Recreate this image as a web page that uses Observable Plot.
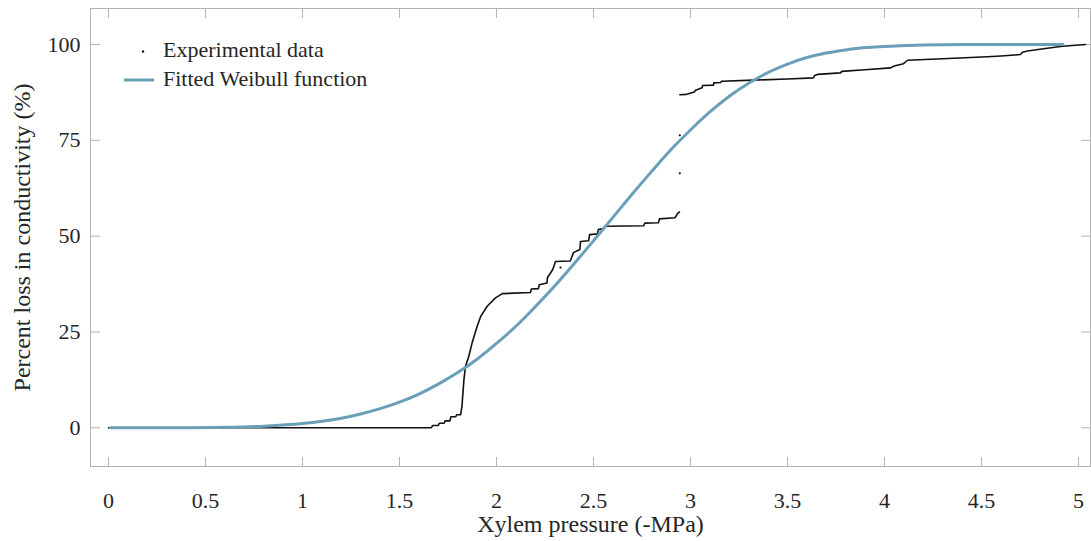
<!DOCTYPE html>
<html><head><meta charset="utf-8">
<script src="https://cdn.jsdelivr.net/npm/d3@7"></script>
<script src="https://cdn.jsdelivr.net/npm/@observablehq/plot@0.6"></script>
<style>
body{margin:0;background:#fff;}
#wrap{position:relative;width:1091px;height:541px;font-family:"Liberation Serif","Times New Roman",serif;}
#legend{position:absolute;left:0;top:0;pointer-events:none;}
</style></head><body><div id="wrap"></div>
<script>
// Fitted Weibull curve
const fitX = [0.01, 0.2, 0.4, 0.6, 0.8, 1.0, 1.1, 1.2, 1.3, 1.4, 1.5, 1.6, 1.7, 1.8, 1.9, 2.0, 2.1, 2.2, 2.3, 2.4, 2.5, 2.6, 2.7, 2.8, 2.9, 3.0, 3.1, 3.2, 3.3, 3.4, 3.5, 3.6, 3.7, 3.8, 3.9, 4.0, 4.2, 4.4, 4.6, 4.92];
const fitY = [0, 0, 0.02, 0.12, 0.42, 1.1, 1.7, 2.5, 3.6, 5.0, 6.7, 8.8, 11.4, 14.4, 17.9, 22.0, 26.5, 31.6, 37.0, 42.8, 48.8, 54.9, 61.0, 66.9, 72.6, 77.7, 82.4, 86.5, 89.9, 92.7, 94.9, 96.6, 97.8, 98.6, 99.2, 99.5, 99.9, 100, 100, 100];
// Experimental data, lower branch
const lowX = [0, 1.665, 1.67, 1.70, 1.705, 1.73, 1.735, 1.76, 1.765, 1.79, 1.795, 1.815, 1.822, 1.832, 1.840, 1.857, 1.874, 1.900, 1.918, 1.952, 1.995, 2.03, 2.175, 2.18, 2.216, 2.22, 2.26, 2.263, 2.29, 2.304, 2.38, 2.397, 2.43, 2.433, 2.475, 2.48, 2.52, 2.525, 2.55, 2.56, 2.758, 2.765, 2.835, 2.84, 2.92, 2.935, 2.943];
const lowY = [0, 0, 0.6, 0.6, 1.2, 1.2, 1.8, 1.8, 2.9, 2.9, 3.4, 3.4, 5.6, 12.5, 16.0, 18.6, 22.1, 26.4, 29.0, 31.7, 33.9, 35.0, 35.3, 36.2, 36.3, 37.3, 37.8, 39.2, 41.3, 43.4, 43.5, 45.7, 46.5, 48.6, 48.8, 50.4, 50.6, 51.7, 52.0, 52.6, 52.7, 53.4, 53.5, 54.5, 54.8, 56.0, 56.3];
// Experimental data, upper branch
const highX = [2.945, 2.98, 3.01, 3.02, 3.026, 3.06, 3.062, 3.119, 3.12, 3.155, 3.16, 3.325, 3.50, 3.634, 3.64, 3.655, 3.773, 3.78, 3.90, 4.031, 4.05, 4.098, 4.119, 4.30, 4.531, 4.60, 4.701, 4.711, 4.737, 4.82, 4.907, 4.95, 5.036];
const highY = [86.9, 87.0, 87.5, 87.6, 88.1, 88.7, 89.3, 89.4, 90.0, 90.1, 90.4, 90.7, 91.0, 91.3, 91.9, 92.2, 92.6, 93.0, 93.4, 93.9, 94.4, 95.0, 95.9, 96.3, 96.8, 97.0, 97.4, 98.0, 98.3, 98.9, 99.5, 99.7, 100];
// isolated experimental points
const strayX = [2.945, 2.945, 2.33];
const strayY = [76.3, 66.4, 41.8];

const xTicks = [0, 0.5, 1, 1.5, 2, 2.5, 3, 3.5, 4, 4.5, 5];
const yTicks = [0, 25, 50, 75, 100];
const xLabel = "Xylem pressure (-MPa)";
const yLabel = "Percent loss in conductivity (%)";
const legendLabels = ["Experimental data", "Fitted Weibull function"];

const blue = "#6a9fba";
const grey = "#b3b3b3";
const ink = "#262626";

const fitData = fitX.map((x, i) => ({x, y: fitY[i]}));
const expData = [
  ...lowX.map((x, i) => ({x, y: lowY[i], s: "low"})),
  ...highX.map((x, i) => ({x, y: highY[i], s: "high"}))
];
const strayData = strayX.map((x, i) => ({x, y: strayY[i]}));

const chart = Plot.plot({
  width: 1091, height: 541,
  marginLeft: 90, marginRight: 1, marginTop: 8, marginBottom: 75,
  style: {fontFamily: "'Liberation Serif', 'Times New Roman', serif", fontSize: "22px", color: ink, background: "#fff"},
  x: {domain: [-0.0928, 5.062]},
  y: {domain: [-10.1, 109.4]},
  marks: [
    Plot.frame({stroke: grey}),
    Plot.axisX(xTicks, {anchor: "bottom", tickSize: 0, tickPadding: 26, tickFormat: d => String(d), fontSize: 22, fill: ink, label: null}),
    Plot.axisX(xTicks, {anchor: "bottom", tickSize: 9, dy: -9, tickFormat: () => "", stroke: grey, label: null}),
    Plot.axisX(xTicks, {anchor: "top", tickSize: 9, dy: 9, tickFormat: () => "", stroke: grey, label: null}),
    Plot.axisY(yTicks, {anchor: "left", tickSize: 0, tickPadding: 10, tickFormat: d => String(d), fontSize: 22, fill: ink, label: null}),
    Plot.axisY(yTicks, {anchor: "left", tickSize: 10, dx: 10, tickFormat: () => "", stroke: grey, label: null}),
    Plot.axisY(yTicks, {anchor: "right", tickSize: 10, dx: -10, tickFormat: () => "", stroke: grey, label: null}),
    Plot.line(expData, {x: "x", y: "y", z: "s", stroke: "#111", strokeWidth: 1.6}),
    Plot.dot(strayData, {x: "x", y: "y", r: 1.1, fill: "#111", stroke: null}),
    Plot.line(fitData, {x: "x", y: "y", stroke: blue, strokeWidth: 3, curve: "monotone-x"}),
    Plot.text([xLabel], {text: d => d, frameAnchor: "bottom", lineAnchor: "middle", dy: 58, fontSize: 24, fill: ink}),
    Plot.text([yLabel], {text: d => d, frameAnchor: "left", textAnchor: "middle", lineAnchor: "middle", dx: -68, rotate: -90, fontSize: 24, fill: ink})
  ]
});
const wrap = document.getElementById("wrap");
wrap.appendChild(chart);

// legend overlay
const ns = "http://www.w3.org/2000/svg";
const lg = document.createElementNS(ns, "svg");
lg.setAttribute("id", "legend");
lg.setAttribute("width", 1091); lg.setAttribute("height", 541);
lg.innerHTML = `
  <circle cx="143" cy="51.5" r="1.2" fill="#111"></circle>
  <line x1="124" x2="154" y1="80" y2="80" stroke="${blue}" stroke-width="3"></line>
  <text x="163" y="56.5" font-size="22" fill="${ink}" font-family="'Liberation Serif','Times New Roman',serif">${legendLabels[0]}</text>
  <text x="163" y="86" font-size="22" fill="${ink}" font-family="'Liberation Serif','Times New Roman',serif">${legendLabels[1]}</text>`;
wrap.appendChild(lg);
</script>
</body></html>
